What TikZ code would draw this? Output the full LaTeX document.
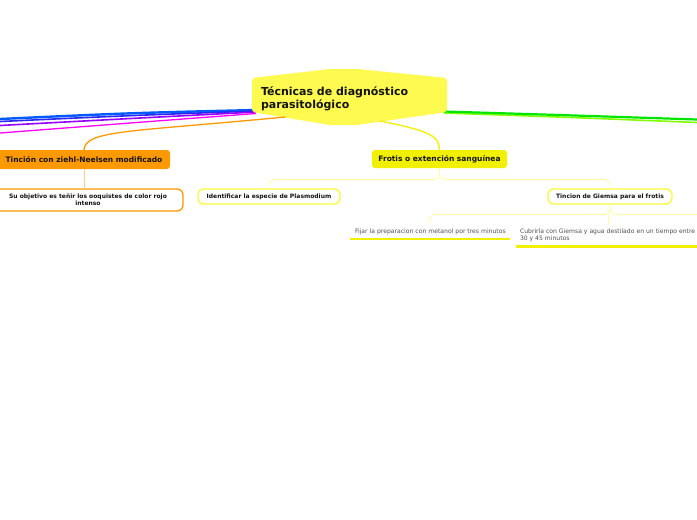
\documentclass[tikz,border=0pt]{standalone}
\usepackage{fontspec}
\setmainfont{DejaVu Sans}
\definecolor{rootyellow}{RGB}{255,250,80}
\definecolor{fyellow}{RGB}{240,240,0}
\definecolor{byellow}{RGB}{250,250,60}
\definecolor{lyellow}{RGB}{255,255,160}
\definecolor{orangec}{RGB}{255,153,0}
\definecolor{lorange}{RGB}{255,205,140}
\definecolor{blueA}{RGB}{0,90,255}
\definecolor{blueB}{RGB}{40,40,240}
\definecolor{purpleC}{RGB}{150,0,255}
\definecolor{magentaD}{RGB}{255,0,255}
\definecolor{greenA}{RGB}{0,230,0}
\definecolor{greenB}{RGB}{130,255,0}
\definecolor{textc}{RGB}{20,20,20}
\definecolor{leafc}{RGB}{80,80,80}
\begin{document}
\begin{tikzpicture}[x=1pt,y=-1pt,
  every node/.style={inner sep=0pt,outer sep=0pt,text=textc},
  mainbox/.style={fill=#1,rounded corners=3pt,font=\bfseries\fontsize{7.5}{9}\selectfont,align=center},
  subbox/.style={draw=#1,line width=1.3pt,fill=white,rounded corners=6pt,font=\bfseries\fontsize{6}{7.4}\selectfont,align=center},
  leaftext/.style={font=\fontsize{6.1}{7.3}\selectfont,align=left,anchor=west,text=leafc},
  thinlink/.style={draw=#1,line width=0.8pt,rounded corners=6pt},
  thicklink/.style={draw=#1,line width=1.3pt},
  uline/.style={draw=fyellow,line width=2.6pt}
]
\fill[white] (0,0) rectangle (697,520);
\useasboundingbox (0,0) rectangle (697,520);

% left and right coloured branches (children off the page)
\coordinate (lA) at (0,119);
\coordinate (lB) at (0,121.5);
\coordinate (lC) at (0,125.5);
\coordinate (lD) at (0,133);
\coordinate (rA) at (697,119.5);
\coordinate (rB) at (697,122.5);
\coordinate (rootL1) at (256,110);
\coordinate (rootL2) at (256,111);
\coordinate (rootL3) at (256,112);
\coordinate (rootL4) at (256,113.5);
\coordinate (rootR1) at (444,111.5);
\coordinate (rootR2) at (444,113);
\draw[blueA,line width=2.4pt] (rootL1) .. controls (130,113) .. (lA);
\draw[blueB,line width=1.6pt] (rootL2) .. controls (130,115.5) .. (lB);
\draw[purpleC,line width=1.6pt] (rootL3) .. controls (130,118.5) .. (lC);
\draw[magentaD,line width=1.3pt] (rootL4) .. controls (130,123) .. (lD);
\draw[greenB,line width=1.6pt] (rootR2) .. controls (560,117) .. (rB);
\draw[greenA,line width=2.2pt] (rootR1) .. controls (560,115) .. (rA);

% root shape
\fill[rootyellow,rounded corners=3pt] (252,78) -- (330,69) -- (357,69) -- (447,78) -- (447,112) -- (357,125) -- (330,125) -- (252,112) -- cycle;
\node[font=\bfseries\fontsize{11}{12.4}\selectfont,align=left,anchor=north west] (root) at (261,87) {Técnicas de diagnóstico\\parasitológico};
\coordinate (rootS) at (380,121);
\coordinate (rootSW) at (285,117);

% first level
\node[mainbox=orangec,minimum width=172pt,minimum height=19pt] (tin) at (84,159.5) {Tinción con ziehl-Neelsen modificado};
\node[mainbox=fyellow,minimum width=135pt,minimum height=18pt] (fro) at (439.5,159) {Frotis o extención sanguínea};

\draw[thicklink=orangec] (rootSW) .. controls (130,132) and (85,130) .. (tin.north);
\draw[thicklink=fyellow] (rootS) .. controls (430,131) and (439.5,136) .. (fro.north);

% second level
\node[subbox=orangec,minimum width=190pt,minimum height=22pt] (obj) at (88,200) {Su objetivo es teñir los ooquistes de color rojo\\intenso};
\node[subbox=byellow,minimum width=142pt,minimum height=15pt] (ide) at (269,196.5) {Identificar la especie de Plasmodium};
\node[subbox=byellow,minimum width=124pt,minimum height=15pt] (gie) at (610,196.5) {Tincion de Giemsa para el frotis};

\draw[lorange,line width=0.8pt] (tin.south) -- (obj.north -| tin.south);
\draw[thinlink=lyellow] (fro.south) -- (439.5,179.5) -| (ide.north);
\draw[thinlink=lyellow] (fro.south) -- (439.5,179.5) -| (gie.north);

% third level
\node[leaftext] (fij) at (355,232) {Fijar la preparacion con metanol por tres minutos};
\node[leaftext] (cub) at (520,235) {Cubrirla con Giemsa y agua destilado en un tiempo entre\\30 y 45 minutos};
\coordinate (fijTop) at (430,224);
\coordinate (cubTop) at (608,225);
\coordinate (offR) at (697,214.5);
\draw[thinlink=lyellow] (gie.south) -- (610,214.5) -| (fijTop);
\draw[thinlink=lyellow] (gie.south) -- (610,214.5) -- (offR);
\draw[lyellow,line width=0.8pt] (608,214.5) -- (cubTop);
\coordinate (fijUL) at (350,239);
\coordinate (fijUR) at (510,239);
\coordinate (cubUL) at (516,246.5);
\coordinate (cubUR) at (697,246.5);
\draw[uline] (fijUL) -- (fijUR);
\draw[uline] (cubUL) -- (cubUR);
\end{tikzpicture}
\end{document}
